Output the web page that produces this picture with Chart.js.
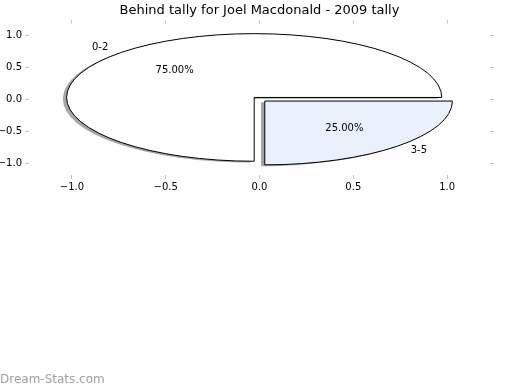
<!DOCTYPE html>
<html>
<head>
<meta charset="utf-8">
<script src="https://cdn.jsdelivr.net/npm/chart.js@4"></script>
<style>
  html, body { margin: 0; padding: 0; background: #fff; }
  #wrap { width: 520px; height: 390px; position: relative; }
</style>
</head>
<body>
<div id="wrap"><canvas id="myChart"></canvas></div>
<script>
// chart data
var title = 'Behind tally for Joel Macdonald - 2009 tally';
var labels = ['0-2', '3-5'];
var values = [3, 1];
var explode = [0.04, 0.04];
var colors = ['#ffffff', '#ebf1fc'];
var tickValues = [-1.0, -0.5, 0.0, 0.5, 1.0];

var FONT = 'DejaVu Sans';

function fmtTick(v) {
    var s = Math.abs(v).toFixed(1);
    return v < -1e-9 ? '\u2212' + s : s;
}

// draws the pie wedges (elliptical, since the axes are not equal) through the scales
var piePlugin = {
    id: 'pieWedges',
    beforeDatasetsDraw(chart) {
        var ctx = chart.ctx;
        var xs = chart.scales.x, ys = chart.scales.y;
        var total = values.reduce(function (a, b) { return a + b; }, 0);
        var rx = xs.getPixelForValue(1) - xs.getPixelForValue(0);
        var ry = ys.getPixelForValue(0) - ys.getPixelForValue(1);
        var wedges = [];
        var start = 0;
        for (var i = 0; i < values.length; i++) {
            var sweep = values[i] / total * 2 * Math.PI;
            var mid = start + sweep / 2;
            wedges.push({
                ox: explode[i] * Math.cos(mid),
                oy: explode[i] * Math.sin(mid),
                a1: start, a2: start + sweep, mid: mid, frac: values[i] / total
            });
            start += sweep;
        }

        function path(w, dx, dy) {
            var cx = xs.getPixelForValue(w.ox + dx);
            var cy = ys.getPixelForValue(w.oy + dy);
            ctx.beginPath();
            ctx.moveTo(cx, cy);
            ctx.ellipse(cx, cy, rx, ry, 0, -w.a1, -w.a2, true);
            ctx.closePath();
        }

        ctx.save();
        ctx.beginPath();
        ctx.rect(chart.chartArea.left, chart.chartArea.top,
            chart.chartArea.right - chart.chartArea.left, chart.chartArea.bottom - chart.chartArea.top);
        ctx.clip();
        // shadows first
        wedges.forEach(function (w, i) {
            var c = Chart.helpers.color(colors[i]).rgb;
            path(w, -0.02, -0.02);
            ctx.fillStyle = 'rgba(' + Math.round(c.r * 0.3) + ',' + Math.round(c.g * 0.3) + ',' +
                Math.round(c.b * 0.3) + ',0.5)';
            ctx.fill();
        });
        wedges.forEach(function (w, i) {
            path(w, 0, 0);
            ctx.fillStyle = colors[i];
            ctx.fill();
            ctx.lineWidth = 1;
            ctx.strokeStyle = '#000';
            ctx.lineJoin = 'miter';
            ctx.stroke();
        });
        // labels
        ctx.fillStyle = '#000';
        ctx.font = '10px "' + FONT + '"';
        ctx.textBaseline = 'middle';
        wedges.forEach(function (w, i) {
            var lx = w.ox + 1.1 * Math.cos(w.mid);
            var ly = w.oy + 1.1 * Math.sin(w.mid);
            ctx.textAlign = lx < 0 ? 'right' : 'left';
            ctx.fillText(labels[i], xs.getPixelForValue(lx), ys.getPixelForValue(ly));
            var px = w.ox + 0.6 * Math.cos(w.mid);
            var py = w.oy + 0.6 * Math.sin(w.mid);
            ctx.textAlign = 'center';
            ctx.fillText((w.frac * 100).toFixed(2) + '%', xs.getPixelForValue(px), ys.getPixelForValue(py));
        });
        ctx.restore();
    },
    afterDraw(chart) {
        var ctx = chart.ctx;
        ctx.save();
        ctx.fillStyle = '#000';
        ctx.font = '13px "' + FONT + '"';
        ctx.textAlign = 'center';
        ctx.textBaseline = 'middle';
        var ca = chart.chartArea;
        ctx.fillText(title, (ca.left + ca.right) / 2, 10.5);
        ctx.fillStyle = '#a0a0a0';
        ctx.font = '12px "' + FONT + '"';
        ctx.textAlign = 'left';
        ctx.fillText('Dream-Stats.com', 0, 380);
        ctx.restore();
    }
};

function axis(pos, size, showLabels, pad) {
    return {
        type: 'linear',
        position: pos,
        min: -1.25,
        max: 1.25,
        afterBuildTicks: function (scale) {
            scale.ticks = tickValues.map(function (v) { return { value: v }; });
        },
        afterFit: function (scale) {
            if (pos === 'left' || pos === 'right') scale.width = size;
            else scale.height = size;
        },
        border: { display: false },
        grid: {
            drawOnChartArea: false,
            drawTicks: true,
            tickLength: -4,
            color: '#c4c4c4',
            lineWidth: 1
        },
        ticks: {
            display: showLabels,
            padding: pad,
            color: '#000',
            font: { family: FONT, size: 10 },
            maxRotation: 0,
            autoSkip: false,
            callback: function (v) { return fmtTick(v); }
        }
    };
}

function loadChart() {
    var ctx = document.getElementById('myChart');
    new Chart(ctx, {
        type: 'scatter',
        data: {
            datasets: [{
                label: 'pie',
                data: [],
                showLine: false
            }]
        },
        options: {
            responsive: true,
            maintainAspectRatio: false,
            animation: false,
            layout: { padding: 0 },
            plugins: {
                legend: { display: false },
                title: { display: false },
                tooltip: { enabled: false }
            },
            scales: {
                x: axis('bottom', 211, true, 6),
                y: axis('left', 25, true, 7),
                x2: axis('top', 19.5, false, 0),
                y2: axis('right', 26, false, 0)
            }
        },
        plugins: [piePlugin]
    });
}

window.addEventListener('DOMContentLoaded', loadChart);
</script>
</body>
</html>
